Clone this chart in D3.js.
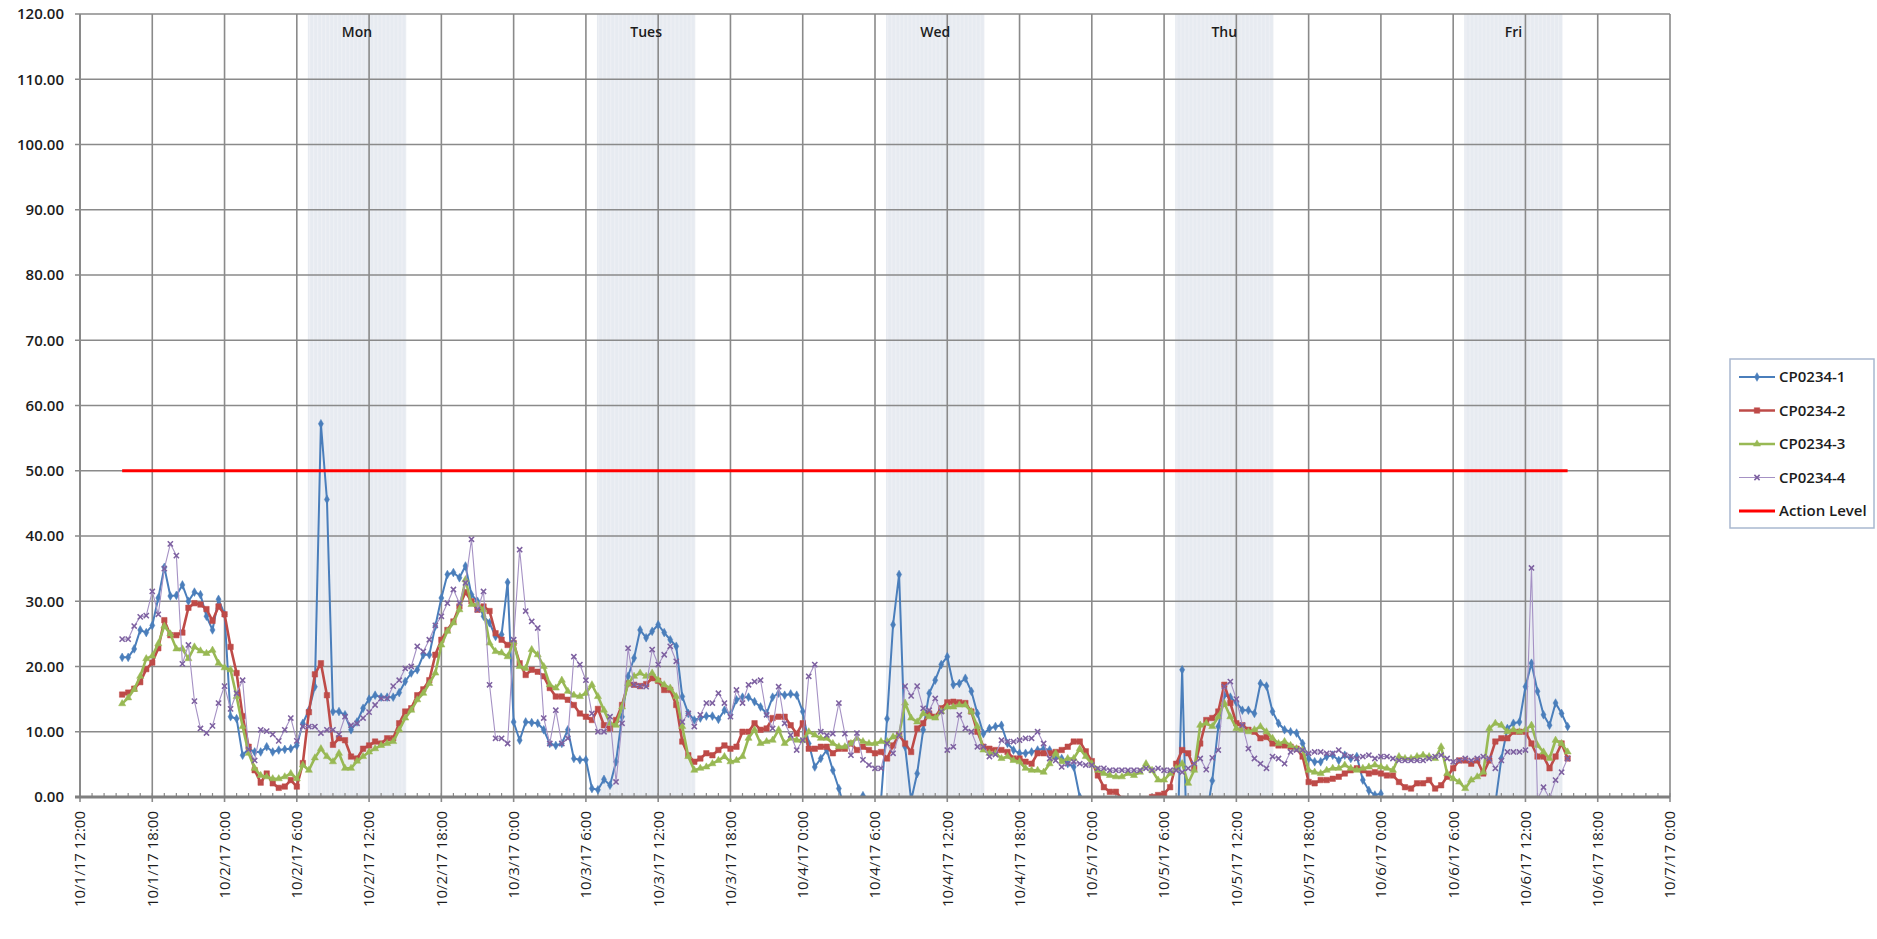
<!DOCTYPE html>
<html>
<head>
<meta charset="utf-8">
<script src="https://d3js.org/d3.v7.min.js"></script>
<style>
  body { margin: 0; background: #fff; }
  text { font-family: "Open Sans", "Liberation Sans", sans-serif; fill: #1c1c1c; }
</style>
</head>
<body>
<div id="chart"></div>
<script>
// readings every 30 minutes, first one at 10/1/17 15:30
var firstReading = new Date(2017, 9, 1, 15, 30);
var stepMinutes = 30;
var actionLevel = 50;

var seriesNames = ["CP0234-1", "CP0234-2", "CP0234-3", "CP0234-4"];

var cp1 = [
  21.4, 21.4, 22.7, 25.6, 25.2, 26.3, 30.5, 35.2, 30.8, 30.9,
  32.5, 30.0, 31.4, 31.0, 27.7, 25.6, 30.3, 28.0, 12.3, 12.0,
  6.4, 7.4, 6.9, 6.9, 7.7, 6.9, 7.2, 7.3, 7.4, 7.9,
  11.3, 13.3, 16.9, 57.2, 45.6, 13.1, 13.1, 12.6, 10.3, 11.5,
  13.6, 15.0, 15.6, 15.3, 15.3, 15.3, 16.0, 17.7, 19.0, 19.5,
  21.8, 21.8, 26.2, 30.5, 34.1, 34.4, 33.6, 35.4, 31.0, 30.0,
  27.7, 26.7, 24.6, 24.9, 32.9, 11.5, 8.7, 11.5, 11.4, 11.3,
  10.3, 8.2, 7.9, 8.2, 10.3, 5.9, 5.7, 5.7, 1.3, 1.1,
  2.7, 1.8, 5.4, 12.3, 18.5, 21.3, 25.6, 24.4, 25.4, 26.4,
  25.2, 24.1, 23.1, 15.4, 12.8, 11.8, 12.1, 12.4, 12.4, 11.9,
  13.3, 12.6, 14.9, 15.3, 15.3, 14.6, 13.8, 12.8, 15.3, 15.9,
  15.6, 15.8, 15.6, 13.1, 8.2, 4.6, 5.9, 7.2, 4.1, 1.3,
  -2.0, -4.0, -2.0, 0.2, -3.0, -5.0, -0.5, 12.0, 26.4, 34.1,
  7.7, -0.5, 3.6, 10.3, 15.9, 17.9, 20.3, 21.5, 17.2, 17.4,
  18.2, 16.2, 12.8, 9.7, 10.5, 10.8, 11.0, 8.2, 7.2, 6.7,
  6.7, 6.9, 7.2, 7.4, 7.2, 6.2, 5.9, 5.1, 4.6, 0.0,
  -4, -6, -8, -8, -8, -8, -8, -8, -8, -8,
  -8, -8, -8, -8, -8, -15, 19.5, -15, -8, -8,
  -3, 2.5, 10.8, 15.6, 15.3, 14.5, 13.3, 13.3, 12.8, 17.4,
  17.0, 13.1, 11.3, 10.3, 10.0, 9.8, 8.2, 5.9, 5.4, 5.4,
  6.2, 6.4, 5.6, 6.4, 5.9, 6.2, 2.6, 1.0, 0.3, 0.5,
  -3, -5, -6, -6, -6, -6, -6, -6, -6, -6,
  -6, -6, -6, -6, -6, -6, -6, -5, -1, 5.9,
  10.5, 11.3, 11.5, 16.9, 20.5, 16.2, 12.6, 11.0, 14.4, 12.8,
  10.8
];

var cp2 = [
  15.7, 16.0, 16.6, 17.6, 19.6, 20.6, 22.8, 27.1, 24.8, 24.8,
  25.2, 29.0, 29.7, 29.5, 28.8, 27.0, 29.2, 28.0, 23.0, 19.0,
  12.4, 7.7, 4.1, 2.2, 3.6, 2.1, 1.4, 1.6, 2.6, 1.6,
  5.2, 13.0, 18.8, 20.5, 15.6, 8.0, 9.0, 8.7, 6.2, 5.9,
  7.4, 7.9, 8.5, 8.2, 9.0, 9.0, 11.3, 13.1, 13.6, 15.6,
  16.5, 17.9, 21.8, 24.1, 25.6, 26.9, 29.2, 31.4, 30.0, 28.7,
  29.2, 28.5, 25.1, 24.1, 23.3, 23.6, 20.5, 18.7, 19.5, 19.2,
  18.5, 16.7, 15.4, 15.4, 14.9, 14.1, 12.8, 12.3, 11.8, 13.5,
  11.0, 10.5, 11.8, 14.1, 17.4, 17.2, 17.0, 17.3, 18.2, 17.8,
  16.4, 16.4, 14.1, 8.5, 6.4, 5.4, 5.9, 6.7, 6.4, 7.2,
  7.9, 7.4, 7.7, 10.0, 10.0, 11.3, 10.3, 10.5, 12.1, 12.3,
  12.3, 11.0, 9.7, 11.3, 7.4, 7.4, 7.7, 7.7, 6.7, 7.4,
  7.4, 8.2, 7.2, 7.7, 7.2, 6.7, 6.9, 5.9, 7.9, 9.5,
  8.2, 6.9, 10.5, 11.3, 12.8, 12.3, 13.6, 14.5, 14.6, 14.5,
  14.4, 13.1, 10.0, 7.7, 7.4, 7.2, 7.2, 6.9, 5.9, 5.9,
  5.4, 5.1, 6.7, 6.7, 6.7, 6.9, 7.2, 7.7, 8.5, 8.5,
  7.0, 5.5, 3.3, 1.5, 0.8, 0.8, -0.3, -1.0, -1.5, -1.5,
  -1.0, 0.0, 0.3, 0.5, 1.5, 5.1, 7.2, 6.7, 4.4, 8.2,
  11.8, 12.1, 13.1, 17.2, 14.4, 11.3, 11.0, 10.3, 10.0, 9.0,
  9.2, 8.2, 7.9, 7.9, 7.7, 7.4, 6.2, 2.3, 2.1, 2.6,
  2.6, 2.8, 3.1, 3.6, 4.1, 4.4, 4.1, 3.6, 3.8, 3.6,
  3.3, 3.3, 2.3, 1.5, 1.3, 2.1, 2.1, 2.6, 1.3, 1.8,
  3.1, 4.4, 5.6, 5.6, 5.1, 5.6, 3.6, 5.6, 8.5, 9.0,
  9.0, 10.0, 10.0, 10.0, 8.2, 6.2, 6.2, 4.4, 6.2, 8.2,
  5.9
];

var cp3 = [
  14.3, 15.2, 16.5, 18.5, 21.2, 21.6, 23.5, 26.2, 25.0, 22.7,
  22.7, 21.2, 23.0, 22.4, 22.0, 22.5, 20.5, 19.8, 19.5, 15.4,
  10.8, 6.7, 4.4, 3.3, 3.1, 2.8, 2.8, 3.1, 3.6, 2.8,
  4.9, 4.1, 6.0, 7.4, 6.2, 5.4, 6.7, 4.4, 4.4, 5.5,
  6.2, 6.9, 7.4, 7.9, 8.2, 8.5, 10.3, 12.1, 13.3, 14.9,
  15.9, 17.4, 19.0, 23.3, 25.4, 26.7, 28.7, 33.3, 29.5, 29.5,
  28.7, 23.6, 22.3, 22.1, 21.5, 23.8, 20.0, 19.7, 22.6, 21.8,
  20.0, 17.2, 16.7, 17.9, 16.2, 15.6, 15.4, 15.9, 17.2, 15.4,
  13.3, 11.3, 11.0, 13.8, 17.4, 18.5, 19.0, 18.5, 19.0, 17.9,
  17.2, 16.7, 15.4, 10.8, 6.2, 4.1, 4.4, 4.6, 5.1, 5.6,
  6.2, 5.4, 5.6, 6.2, 9.0, 10.3, 8.2, 8.5, 8.7, 10.3,
  8.2, 9.0, 8.7, 8.7, 10.0, 9.5, 9.0, 9.0, 8.2, 7.7,
  7.7, 8.2, 9.0, 8.5, 8.2, 8.2, 8.5, 8.5, 9.2, 9.5,
  14.4, 12.1, 11.5, 12.8, 12.3, 12.1, 13.1, 13.8, 13.8, 14.1,
  14.1, 13.1, 10.8, 7.2, 6.7, 6.7, 5.9, 6.2, 5.6, 5.4,
  4.4, 4.1, 4.1, 3.8, 5.1, 6.7, 5.4, 5.9, 5.9, 7.4,
  6.2, 5.1, 4.1, 3.6, 3.3, 3.1, 3.1, 3.6, 3.3, 3.8,
  5.1, 4.1, 2.6, 2.6, 3.6, 4.4, 5.1, 2.1, 4.1, 11.0,
  11.3, 10.8, 12.3, 14.4, 12.3, 10.5, 10.3, 10.0, 10.3, 10.8,
  10.0, 9.0, 8.2, 8.5, 7.9, 7.4, 7.2, 4.1, 3.8, 3.6,
  4.1, 4.4, 4.4, 4.9, 4.4, 4.1, 4.4, 4.6, 4.9, 4.6,
  4.4, 4.1, 6.2, 5.9, 5.9, 6.2, 6.4, 6.2, 5.9, 7.7,
  3.6, 2.8, 2.3, 1.3, 2.6, 3.1, 3.8, 10.5, 11.3, 11.0,
  10.0, 10.3, 10.0, 10.3, 11.0, 7.9, 6.9, 5.9, 8.7, 8.2,
  6.9
];

var cp4 = [
  24.2, 24.2, 26.2, 27.6, 27.8, 31.5, 28.0, 35.0, 38.8, 37.0,
  20.4, 23.3, 14.7, 10.5, 9.8, 10.9, 14.4, 17.0, 13.5, 15.9,
  17.9, 7.3, 5.6, 10.3, 10.1, 9.6, 8.6, 10.3, 12.1, 8.6,
  10.8, 10.8, 10.8, 9.8, 10.3, 10.3, 9.6, 12.3, 11.0, 11.3,
  12.1, 13.0, 14.1, 15.1, 15.1, 17.0, 17.9, 19.7, 20.0, 23.1,
  22.3, 24.1, 26.3, 27.7, 29.7, 31.8, 29.7, 32.8, 39.5, 28.7,
  31.5, 17.2, 9.0, 9.0, 8.2, 24.1, 37.9, 28.5, 26.9, 25.9,
  12.1, 8.2, 13.3, 8.2, 9.0, 21.5, 20.3, 17.9, 12.8, 10.0,
  10.0, 12.3, 2.3, 11.3, 22.8, 17.2, 17.0, 16.9, 22.6, 20.3,
  21.8, 23.1, 20.8, 11.5, 12.8, 10.8, 12.6, 14.4, 14.4, 15.9,
  14.4, 12.3, 16.4, 14.4, 17.2, 17.7, 17.9, 12.6, 10.5, 16.9,
  11.3, 9.5, 7.2, 8.7, 18.5, 20.3, 10.0, 9.5, 9.7, 14.4,
  9.7, 6.4, 9.8, 5.7, 4.9, 4.4, 4.4, 8.2, 6.7, 9.5,
  17.0, 15.5, 17.0, 13.6, 13.3, 15.1, 13.1, 7.2, 7.7, 12.6,
  10.5, 10.0, 7.7, 7.7, 6.2, 6.5, 8.7, 8.5, 8.5, 8.7,
  9.0, 9.0, 10.0, 8.2, 5.9, 5.6, 4.6, 5.1, 5.4, 5.1,
  4.9, 4.9, 4.4, 4.4, 4.1, 4.1, 4.1, 4.1, 4.1, 4.1,
  4.4, 4.1, 4.4, 4.1, 4.1, 4.1, 3.8, 4.4, 5.1, 5.9,
  4.2, 6.0, 7.2, 16.9, 17.7, 15.0, 11.0, 7.4, 5.9, 5.1,
  4.4, 6.2, 5.9, 5.1, 6.9, 7.2, 7.2, 6.7, 6.9, 6.9,
  6.7, 6.7, 7.2, 6.4, 6.2, 5.9, 6.2, 6.4, 5.9, 6.2,
  6.2, 5.9, 5.6, 5.6, 5.6, 5.6, 5.6, 5.9, 6.2, 6.4,
  5.9, 5.4, 5.6, 5.9, 5.6, 5.9, 6.2, 5.9, 4.4, 5.6,
  6.9, 6.9, 6.9, 7.2, 35.1, -0.3, 1.5, -0.2, 2.6, 3.8,
  5.9
];

// working-hours shading
var dayLabels = ["Mon", "Tues", "Wed", "Thu", "Fri"];
var bandStarts = ["2017-10-02T06:55", "2017-10-03T06:55", "2017-10-04T06:55", "2017-10-05T06:55", "2017-10-06T06:55"];
var bandEnds = ["2017-10-02T15:05", "2017-10-03T15:05", "2017-10-04T15:05", "2017-10-05T15:05", "2017-10-06T15:05"];

var yTicks = [0, 10, 20, 30, 40, 50, 60, 70, 80, 90, 100, 110, 120];

// ---------------------------------------------------------------
var width = 1877, height = 939;
var margin = {top: 14, left: 80, right: 207, bottom: 142};
var plotRight = width - margin.right, plotBottom = height - margin.bottom;

var svg = d3.select("#chart").append("svg")
    .attr("width", width)
    .attr("height", height);

svg.append("rect").attr("width", width).attr("height", height).attr("fill", "#fff");

var x = d3.scaleTime()
    .domain([new Date(2017, 9, 1, 12), new Date(2017, 9, 7, 0)])
    .range([margin.left, plotRight]);

var y = d3.scaleLinear()
    .domain([0, 120])
    .range([plotBottom, margin.top]);

var parse = d3.timeParse("%Y-%m-%dT%H:%M");

var times = cp1.map(function(d, i) { return d3.timeMinute.offset(firstReading, i * stepMinutes); });

// bands
var defs = svg.append("defs");
var stripe = defs.append("pattern")
    .attr("id", "stripe")
    .attr("patternUnits", "userSpaceOnUse")
    .attr("width", x(d3.timeMinute.offset(firstReading, 20)) - x(firstReading))
    .attr("height", 10);
stripe.append("rect").attr("width", 20).attr("height", 10).attr("fill", "#e7ebf1");
stripe.append("rect").attr("width", 1).attr("height", 10).attr("fill", "#eff1f5");

defs.append("clipPath").attr("id", "plotclip")
  .append("rect")
    .attr("x", margin.left).attr("y", margin.top)
    .attr("width", plotRight - margin.left)
    .attr("height", plotBottom - margin.top);

var bands = dayLabels.map(function(d, i) {
  return {label: d, start: parse(bandStarts[i]), end: parse(bandEnds[i])};
});

svg.append("g").selectAll("rect")
  .data(bands)
  .enter().append("rect")
    .attr("x", function(d) { return x(d.start); })
    .attr("y", margin.top)
    .attr("width", function(d) { return x(d.end) - x(d.start); })
    .attr("height", plotBottom - margin.top)
    .attr("fill", "url(#stripe)");

// grid
var grid = svg.append("g").attr("stroke", "#8a8a8a").attr("stroke-width", 1.6);
grid.selectAll("line.h")
  .data(yTicks)
  .enter().append("line")
    .attr("x1", margin.left - 5).attr("x2", plotRight)
    .attr("y1", function(d) { return y(d); })
    .attr("y2", function(d) { return y(d); });

var majorTicks = x.ticks(d3.timeHour.every(6));
grid.selectAll("line.v")
  .data(majorTicks)
  .enter().append("line")
    .attr("x1", function(d) { return x(d); })
    .attr("x2", function(d) { return x(d); })
    .attr("y1", margin.top)
    .attr("y2", plotBottom + 5);

// hourly minor ticks on the category axis
svg.append("g").selectAll("line")
  .data(x.ticks(d3.timeHour.every(1)))
  .enter().append("line")
    .attr("x1", function(d) { return x(d); })
    .attr("x2", function(d) { return x(d); })
    .attr("y1", plotBottom - 4)
    .attr("y2", plotBottom)
    .attr("stroke", "#8a8a8a")
    .attr("stroke-width", 1.2);

svg.append("line")
    .attr("x1", margin.left).attr("x2", margin.left)
    .attr("y1", margin.top).attr("y2", plotBottom)
    .attr("stroke", "#8a8a8a").attr("stroke-width", 2);

// y labels
svg.append("g").selectAll("text")
  .data(yTicks)
  .enter().append("text")
    .attr("x", margin.left - 16)
    .attr("y", function(d) { return y(d); })
    .attr("dy", "0.36em")
    .attr("text-anchor", "end")
    .style("font-size", "15px")
    .style("font-weight", 600)
    .text(d3.format(".2f"));

// x labels
var fmt = d3.timeFormat("%-m/%-d/%y %-H:%M");
svg.append("g").selectAll("text")
  .data(majorTicks)
  .enter().append("text")
    .attr("transform", function(d) { return "translate(" + x(d) + "," + (plotBottom + 14) + ") rotate(-90)"; })
    .attr("dy", "0.36em")
    .attr("text-anchor", "end")
    .style("font-size", "15px")
    .text(fmt);

// day labels
svg.append("g").selectAll("text")
  .data(bands)
  .enter().append("text")
    .attr("x", function(d) { return (x(d.start) + x(d.end)) / 2; })
    .attr("y", margin.top + 18)
    .attr("dy", "0.36em")
    .attr("text-anchor", "middle")
    .style("font-size", "14px")
    .style("font-weight", 600)
    .text(function(d) { return d.label; });

// series
var styles = [
  {color: "#4a7ebb", line: "#4a7ebb", width: 2, marker: "diamond"},
  {color: "#be4b48", line: "#be4b48", width: 2.6, marker: "square"},
  {color: "#98b954", line: "#98b954", width: 2.6, marker: "triangle"},
  {color: "#7d60a0", line: "#a591c4", width: 1.1, marker: "x"}
];
var values = [cp1, cp2, cp3, cp4];

var series = values.map(function(vals, k) {
  return {name: seriesNames[k], style: styles[k], points: vals.map(function(v, i) { return {t: times[i], v: v}; })};
});

var line = d3.line()
    .x(function(d) { return x(d.t); })
    .y(function(d) { return y(d.v); });

function markerPath(type) {
  if (type == "diamond") return d3.symbol(d3.symbolDiamond, 22)();
  if (type == "square") return d3.symbol(d3.symbolSquare, 30)();
  if (type == "triangle") return d3.symbol(d3.symbolTriangle, 22)();
  return "M-2.6,-2.6L2.6,2.6M-2.6,2.6L2.6,-2.6";
}

var plot = svg.append("g").attr("clip-path", "url(#plotclip)");

series.forEach(function(s) {
  var g = plot.append("g");
  g.append("path")
    .datum(s.points)
    .attr("fill", "none")
    .attr("stroke", s.style.line)
    .attr("stroke-width", s.style.width)
    .attr("stroke-linejoin", "round")
    .attr("d", line);

  g.selectAll("path.m")
    .data(s.points)
    .enter().append("path")
      .attr("class", "m")
      .attr("transform", function(d) { return "translate(" + x(d.t) + "," + y(d.v) + ")"; })
      .attr("d", markerPath(s.style.marker))
      .attr("fill", s.style.marker == "x" ? "none" : s.style.color)
      .attr("stroke", s.style.color)
      .attr("stroke-width", s.style.marker == "x" ? 1.5 : 0.5);
});

// action level
plot.append("line")
    .attr("x1", x(times[0])).attr("x2", x(times[times.length - 1]))
    .attr("y1", y(actionLevel)).attr("y2", y(actionLevel))
    .attr("stroke", "#ff0000")
    .attr("stroke-width", 3);

// bottom axis line
svg.append("line")
    .attr("x1", margin.left - 5).attr("x2", plotRight)
    .attr("y1", plotBottom).attr("y2", plotBottom)
    .attr("stroke", "#7f7f7f").attr("stroke-width", 3);

// legend
var legend = svg.append("g").attr("transform", "translate(1730,359)");
legend.append("rect")
    .attr("width", 144).attr("height", 169)
    .attr("fill", "#fff")
    .attr("stroke", "#a9b8cf")
    .attr("stroke-width", 1.5);

var legendItems = series.map(function(s) { return {name: s.name, style: s.style}; });
legendItems.push({name: "Action Level", style: {color: "#ff0000", line: "#ff0000", width: 3, marker: null}});

var item = legend.selectAll("g.item")
  .data(legendItems)
  .enter().append("g")
    .attr("transform", function(d, i) { return "translate(0," + (18 + i * 33.5) + ")"; });

item.append("line")
    .attr("x1", 9).attr("x2", 45)
    .attr("stroke", function(d) { return d.style.line; })
    .attr("stroke-width", function(d) { return d.style.width; });

item.filter(function(d) { return d.style.marker; })
  .append("path")
    .attr("transform", "translate(27,0)")
    .attr("d", function(d) { return markerPath(d.style.marker); })
    .attr("fill", function(d) { return d.style.marker == "x" ? "none" : d.style.color; })
    .attr("stroke", function(d) { return d.style.color; })
    .attr("stroke-width", function(d) { return d.style.marker == "x" ? 1.5 : 0.5; });

item.append("text")
    .attr("x", 49)
    .attr("dy", "0.36em")
    .style("font-size", "15px")
    .style("font-weight", 600)
    .text(function(d) { return d.name; });
</script>
</body>
</html>
